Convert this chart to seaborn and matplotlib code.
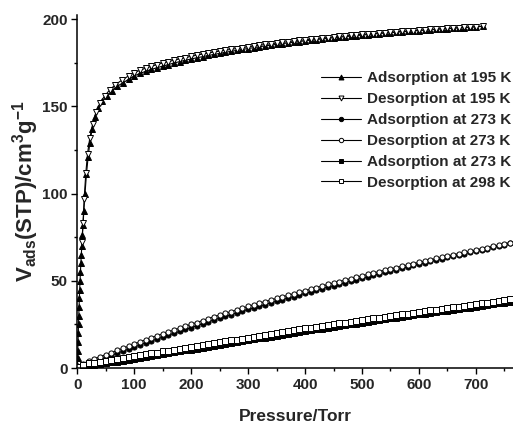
import numpy as np
import pandas as pd
import matplotlib
matplotlib.use("Agg")
import matplotlib.pyplot as plt
from matplotlib.ticker import MultipleLocator
import seaborn as sns


OUTPUT_PATH = "out.png"

# 195 K isotherm
p_195_ads = [0.2, 0.5, 0.9, 1.3, 1.7, 2.1, 2.6, 3.1, 3.6, 4.2,
             4.8, 5.5, 6.2, 7.0, 7.9, 8.9, 10, 11.5, 13.5, 16,
             19, 22, 26, 31, 37, 44, 52, 61, 70, 80, 90,
             100, 110, 120, 130, 140, 150, 160, 170, 180, 190,
             200, 210, 220, 230, 240, 250, 260, 270, 280, 290,
             300, 310, 320, 330, 340, 350, 360, 370, 380, 390,
             400, 410, 420, 430, 440, 450, 460, 470, 480, 490,
             500, 510, 520, 530, 540, 550, 560, 570, 580, 590,
             600, 610, 620, 630, 640, 650, 660, 670, 680, 690,
             700, 712]
v_195_ads = [2, 6, 10, 15, 20, 25, 30, 35, 40, 45,
             50, 55, 60, 65, 70, 76, 82, 90, 100, 111,
             121, 129, 137, 144, 149, 153, 156, 159, 161.5, 163.5, 165.5,
             167.5, 168.9, 170.1, 171.2, 172.2, 173.1, 174.0, 174.9, 175.7, 176.5,
             177.2, 177.9, 178.5, 179.2, 179.8, 180.4, 181.0, 181.6, 182.1, 182.7,
             183.2, 183.7, 184.2, 184.7, 185.1, 185.6, 186.0, 186.4, 186.8, 187.2,
             187.6, 188.0, 188.3, 188.7, 189.0, 189.4, 189.7, 190.0, 190.3, 190.6,
             190.9, 191.2, 191.5, 191.8, 192.0, 192.3, 192.5, 192.8, 193.0, 193.3,
             193.5, 193.7, 193.9, 194.2, 194.4, 194.6, 194.8, 195.0, 195.2, 195.4,
             195.6, 195.9]

p_195_des = [8, 10, 12, 15, 18, 22, 27, 33, 40, 48, 57, 67, 78, 90,
             100, 110, 120, 130, 140, 150, 160, 170, 180, 190,
             200, 210, 220, 230, 240, 250, 260, 270, 280, 290,
             300, 310, 320, 330, 340, 350, 360, 370, 380, 390,
             400, 410, 420, 430, 440, 450, 460, 470, 480, 490,
             500, 510, 520, 530, 540, 550, 560, 570, 580, 590,
             600, 610, 620, 630, 640, 650, 660, 670, 680, 690,
             700, 712]
v_195_des = [72, 83, 97, 112, 123, 132, 140, 147, 152, 156, 159.5, 162.5, 165, 167.5,
             169.3, 170.7, 171.9, 173.0, 174.0, 174.9, 175.7, 176.5, 177.3, 178.0,
             178.7, 179.4, 180.0, 180.6, 181.2, 181.7, 182.2, 182.7, 183.2, 183.7,
             184.2, 184.6, 185.1, 185.5, 185.9, 186.3, 186.7, 187.1, 187.5, 187.8,
             188.2, 188.5, 188.9, 189.2, 189.5, 189.8, 190.1, 190.4, 190.7, 191.0,
             191.3, 191.6, 191.8, 192.1, 192.3, 192.6, 192.8, 193.1, 193.3, 193.5,
             193.7, 193.9, 194.1, 194.4, 194.6, 194.8, 195.0, 195.2, 195.4, 195.5,
             195.7, 196.0]

# 273 K / 298 K isotherms share one pressure grid
p_low = [2, 10, 20, 30, 40, 50, 60, 70, 80, 90,
         100, 110, 120, 130, 140, 150, 160, 170, 180, 190,
         200, 210, 220, 230, 240, 250, 260, 270, 280, 290,
         300, 310, 320, 330, 340, 350, 360, 370, 380, 390,
         400, 410, 420, 430, 440, 450, 460, 470, 480, 490,
         500, 510, 520, 530, 540, 550, 560, 570, 580, 590,
         600, 610, 620, 630, 640, 650, 660, 670, 680, 690,
         700, 710, 720, 730, 740, 750, 760]

v_273_ads = [0.3, 1.3, 2.5, 3.7, 4.9, 6.1, 7.3, 8.5, 9.6, 10.8,
             12.0, 13.2, 14.4, 15.5, 16.6, 17.7, 18.8, 19.9, 21.0, 22.1,
             23.2, 24.3, 25.4, 26.5, 27.6, 28.6, 29.6, 30.6, 31.6, 32.6,
             33.6, 34.6, 35.5, 36.4, 37.4, 38.3, 39.2, 40.1, 41.0, 41.9,
             42.8, 43.7, 44.6, 45.5, 46.4, 47.2, 48.1, 49.0, 49.8, 50.7,
             51.5, 52.4, 53.2, 54.0, 54.8, 55.6, 56.4, 57.2, 58.0, 58.8,
             59.6, 60.3, 61.1, 61.9, 62.6, 63.4, 64.1, 64.9, 65.6, 66.3,
             67.1, 67.8, 68.5, 69.3, 70.0, 70.7, 71.4]
v_273_des = [0.7, 2.5, 4.1, 5.3, 6.5, 7.7, 8.9, 10.1, 11.3, 12.5,
             13.8, 15.0, 16.2, 17.4, 18.5, 19.6, 20.7, 21.8, 22.9, 24.0,
             25.1, 26.1, 27.2, 28.3, 29.4, 30.4, 31.4, 32.3, 33.3, 34.3,
             35.3, 36.3, 37.2, 38.1, 39.0, 39.9, 40.8, 41.7, 42.6, 43.5,
             44.4, 45.2, 46.1, 47.0, 47.9, 48.7, 49.5, 50.4, 51.2, 52.0,
             52.8, 53.7, 54.5, 55.3, 56.1, 56.8, 57.6, 58.4, 59.1, 59.8,
             60.6, 61.3, 62.0, 62.8, 63.5, 64.2, 64.9, 65.6, 66.3, 67.0,
             67.7, 68.4, 69.1, 69.8, 70.5, 71.2, 71.8]
v_298_ads = [0.1, 0.5, 1.1, 1.6, 2.1, 2.7, 3.2, 3.7, 4.2, 4.8,
             5.3, 5.8, 6.4, 6.9, 7.4, 8.0, 8.5, 9.0, 9.5, 10.1,
             10.6, 11.1, 11.7, 12.2, 12.7, 13.3, 13.8, 14.3, 14.8, 15.4,
             15.9, 16.4, 17.0, 17.5, 18.0, 18.6, 19.1, 19.6, 20.1, 20.7,
             21.2, 21.7, 22.2, 22.6, 23.1, 23.6, 24.1, 24.6, 25.0, 25.5,
             26.0, 26.5, 27.0, 27.4, 27.9, 28.4, 28.9, 29.3, 29.8, 30.2,
             30.7, 31.1, 31.6, 32.0, 32.5, 32.9, 33.4, 33.8, 34.3, 34.7,
             35.2, 35.6, 36.1, 36.5, 37.0, 37.4, 37.9]
v_298_des = [0.4, 1.5, 2.6, 3.1, 3.6, 4.2, 4.7, 5.2, 5.7, 6.3,
             6.8, 7.3, 7.9, 8.4, 8.9, 9.5, 10.0, 10.5, 11.0, 11.6,
             12.1, 12.6, 13.2, 13.7, 14.2, 14.8, 15.3, 15.8, 16.3, 16.9,
             17.4, 17.9, 18.5, 19.0, 19.5, 20.1, 20.6, 21.1, 21.6, 22.2,
             22.7, 23.2, 23.7, 24.1, 24.6, 25.1, 25.6, 26.1, 26.5, 27.0,
             27.5, 28.0, 28.5, 28.9, 29.4, 29.9, 30.3, 30.7, 31.2, 31.6,
             32.1, 32.5, 33.0, 33.4, 33.9, 34.3, 34.8, 35.2, 35.7, 36.1,
             36.6, 37.0, 37.5, 37.9, 38.4, 38.8, 39.3]

series_labels = ["Adsorption at 195 K", "Desorption at 195 K",
                 "Adsorption at 273 K", "Desorption at 273 K",
                 "Adsorption at 273 K", "Desorption at 298 K"]


def setup_style():
    sns.set_theme(style="ticks")
    plt.rcParams["font.family"] = ["Liberation Sans", "DejaVu Sans"]
    plt.rcParams["font.weight"] = "bold"
    plt.rcParams["mathtext.fontset"] = "custom"
    plt.rcParams["mathtext.rm"] = "Liberation Sans:bold"
    plt.rcParams["mathtext.bf"] = "Liberation Sans:bold"
    plt.rcParams["mathtext.default"] = "bf"


def plot_isotherms(output_path: str):
    setup_style()

    series = [
        (p_195_ads, v_195_ads, "^", "black"),
        (p_195_des, v_195_des, "v", "white"),
        (p_low, v_273_ads, "o", "black"),
        (p_low, v_273_des, "o", "white"),
        (p_low, v_298_ads, "s", "black"),
        (p_low, v_298_des, "s", "white"),
    ]

    fig = plt.figure(figsize=(5.13, 4.24), dpi=100)
    ax = fig.add_axes([0.1507, 0.132, 0.849, 0.833])

    for (p, v, marker, face), label in zip(series, series_labels):
        df = pd.DataFrame({"P": p, "V": v})
        size = 3.7 if marker in ("o", "s") else 4.2
        sns.lineplot(data=df, x="P", y="V", ax=ax, sort=False, estimator=None,
                     color="black", linewidth=0.8, marker=marker, markersize=size,
                     markerfacecolor=face, markeredgecolor="black",
                     markeredgewidth=0.7, label=label, legend=False)

    ax.set_xlim(0, 765)
    ax.set_ylim(0, 202.5)
    ax.xaxis.set_major_locator(MultipleLocator(100))
    ax.xaxis.set_minor_locator(MultipleLocator(50))
    ax.yaxis.set_major_locator(MultipleLocator(50))
    ax.yaxis.set_minor_locator(MultipleLocator(25))
    ax.tick_params(which="major", direction="out", length=4, width=1,
                   labelsize=11, color="black", pad=3)
    ax.tick_params(which="minor", direction="out", length=2.5, width=1,
                   color="black")
    for lab in ax.get_xticklabels() + ax.get_yticklabels():
        lab.set_fontweight("bold")

    sns.despine(ax=ax)
    for side in ("left", "bottom"):
        ax.spines[side].set_linewidth(1.1)
        ax.spines[side].set_color("black")

    ax.set_xlabel("Pressure/Torr", fontsize=12.5, fontweight="bold")
    ax.set_ylabel(r"V$_{ads}$(STP)/cm$^{3}$g$^{-1}$", fontsize=16,
                  fontweight="bold")
    ax.xaxis.set_label_coords(0.5, -0.115)
    ax.yaxis.set_label_coords(-0.083, 0.5)

    ax.legend(loc="upper right", bbox_to_anchor=(0.997, 0.84), frameon=False,
              prop={"weight": "bold", "size": 11},
              handlelength=2.6, handletextpad=0.4, labelspacing=0.45,
              borderaxespad=0, borderpad=0, markerscale=0.85)

    fig.savefig(output_path, dpi=100)
    plt.close(fig)


if __name__ == "__main__":
    plot_isotherms(OUTPUT_PATH)
